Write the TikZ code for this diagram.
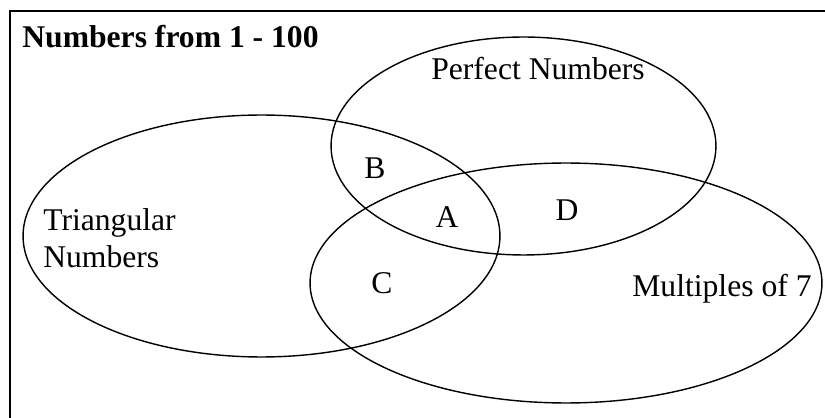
\documentclass[tikz,border=0pt]{standalone}
\usepackage{fontspec}
\setmainfont{Liberation Serif}
\usetikzlibrary{shapes.geometric}

\begin{document}
\begin{tikzpicture}[
  x=0.02cm, y=-0.02cm,
  set/.style={draw,ellipse,inner sep=0pt,line width=0.8pt},
  lbl/.style={inner sep=0pt,font=\fontsize{18}{21.6}\selectfont},
  region/.style={lbl,anchor=center}
]
  \clip (0,0) rectangle (825,418);
  \draw[line width=1.1pt] (10,11) rectangle (845,440);

  % the three sets
  \node[set,minimum width=9.54cm,minimum height=4.84cm] (tri) at (261.5,236) {};
  \node[set,minimum width=7.7cm,minimum height=4.36cm] (perf) at (523.5,146) {};
  \node[set,minimum width=10.24cm,minimum height=4.8cm] (mult) at (566,283) {};

  % labels
  \node[lbl,anchor=base west,font=\fontsize{18}{21.6}\selectfont\bfseries] (title) at (22,48) {Numbers from 1 - 100};
  \node[lbl,anchor=base] (perflbl) at (538,80) {Perfect Numbers};
  \node[lbl,anchor=base west,align=left] (trilbl) at (43,268) {Triangular\\Numbers};
  \node[lbl,anchor=base west] (multlbl) at (632,297) {Multiples of 7};

  \node[region] (b) at (375,168) {B};
  \node[region] (a) at (447,217) {A};
  \node[region] (c) at (382,283) {C};
  \node[region] (d) at (567,210) {D};
\end{tikzpicture}
\end{document}
